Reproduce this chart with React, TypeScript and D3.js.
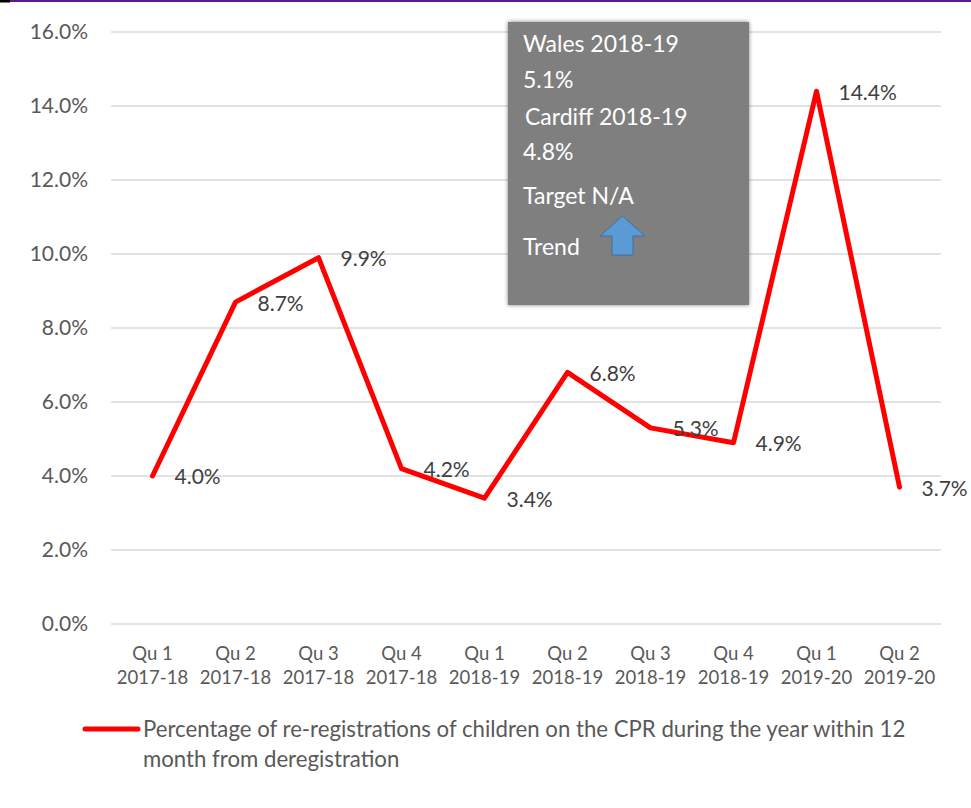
import React from "react";
import * as d3 from "d3";

const categories = [
  ["Qu 1", "2017-18"], ["Qu 2", "2017-18"], ["Qu 3", "2017-18"], ["Qu 4", "2017-18"],
  ["Qu 1", "2018-19"], ["Qu 2", "2018-19"], ["Qu 3", "2018-19"], ["Qu 4", "2018-19"],
  ["Qu 1", "2019-20"], ["Qu 2", "2019-20"],
];
const values = [4.0, 8.7, 9.9, 4.2, 3.4, 6.8, 5.3, 4.9, 14.4, 3.7];
const yTicks = [0, 2, 4, 6, 8, 10, 12, 14, 16];
const boxLines = ["Wales 2018-19", "5.1%", "Cardiff 2018-19", "4.8%", "Target N/A", "Trend"];
const legendLines = [
  "Percentage of re-registrations of children on the CPR during the year within 12",
  "month from deregistration",
];

const W = 971, H = 808;
const FONT = "Lato, 'Open Sans', sans-serif";

export default function App() {
  const keys = categories.map((c, i) => String(i));
  const x = d3.scaleBand().domain(keys).range([111, 941]);
  const y = d3.scaleLinear().domain([0, 16]).range([624, 32]);
  const cx = (i: number) => (x(String(i)) as number) + x.bandwidth() / 2;
  const line = d3.line<number>().x((d, i) => cx(i)).y((d) => y(d));
  const boxY = [44, 80, 117, 152, 196, 247];
  const boxX = [523, 523, 525, 523, 523, 523];

  return (
    <svg width={W} height={H} style={{ position: "absolute", left: 0, top: 0 }}>
      <defs>
        <filter id="sh" x="-10%" y="-10%" width="120%" height="120%">
          <feGaussianBlur in="SourceAlpha" stdDeviation="2" />
          <feComponentTransfer><feFuncA type="linear" slope="0.5" /></feComponentTransfer>
          <feMerge><feMergeNode /><feMergeNode in="SourceGraphic" /></feMerge>
        </filter>
      </defs>
      <rect x={0} y={0} width={W} height={H} fill="#fff" />
      <line x1={0} x2={W} y1={1} y2={1} stroke="#5b1a86" strokeWidth={2} />
      <line x1={0} x2={10} y1={1} y2={1} stroke="#000" strokeWidth={3} />
      {yTicks.map((t) => (
        <g key={t}>
          <line x1={111} x2={941} y1={y(t)} y2={y(t)} stroke="#d9d9d9" strokeWidth={1.5} />
          <text x={88} y={y(t)} dy="0.35em" textAnchor="end" fontFamily={FONT} fontSize={21} fill="#595959">
            {t.toFixed(1)}%
          </text>
        </g>
      ))}
      {categories.map((c, i) => (
        <text key={i} x={cx(i)} textAnchor="middle" fontFamily={FONT} fontSize={18.5} fill="#595959">
          <tspan x={cx(i)} y={660}>{c[0]}</tspan>
          <tspan x={cx(i)} y={684}>{c[1]}</tspan>
        </text>
      ))}
      <path d={line(values) || ""} fill="none" stroke="#ff0000" strokeWidth={5} strokeLinejoin="round" strokeLinecap="round" />
      {values.map((v, i) => (
        <text key={i} x={cx(i) + 22} y={y(v)} dy="0.4em" fontFamily={FONT} fontSize={21} fill="#404040">
          {v.toFixed(1)}%
        </text>
      ))}
      <rect x={508} y={22} width={241} height={283} fill="#7f7f7f" filter="url(#sh)" />
      {boxLines.map((t, i) => (
        <text key={i} x={boxX[i]} y={boxY[i]} dy="0.35em" fontFamily={FONT} fontSize={23} fill="#fff">
          {t}
        </text>
      ))}
      <path d="M600,236 L622.5,216 L645,236 L633,236 L633,255 L612,255 L612,236 Z" fill="#5b9bd5" stroke="#41719c" strokeWidth={1} />
      <line x1={85} x2={138} y1={729} y2={729} stroke="#ff0000" strokeWidth={5} strokeLinecap="round" />
      {legendLines.map((t, i) => (
        <text key={i} x={143} y={729 + i * 30} dy="0.35em" fontFamily={FONT} fontSize={22.2} fill="#595959">
          {t}
        </text>
      ))}
    </svg>
  );
}
